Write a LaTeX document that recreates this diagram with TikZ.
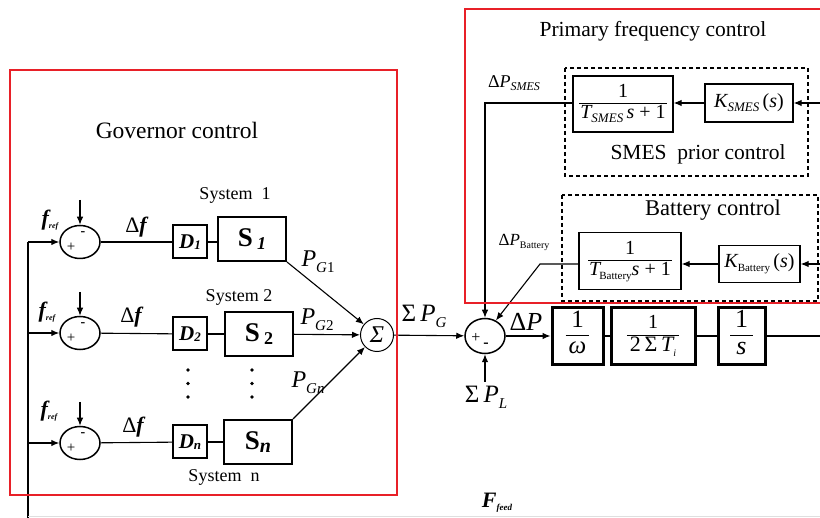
\documentclass[tikz,border=0pt]{standalone}
\usepackage{fontspec}
\setmainfont{Liberation Serif}
\usetikzlibrary{arrows.meta,shapes.geometric}
\newcommand{\fs}[1]{\fontsize{#1pt}{#1pt}\selectfont}
\newcommand{\dn}[3]{\raisebox{#1}{\fs{#2}#3}}
\newcommand{\frc}[3]{\begin{tabular}{@{\hspace{#1}}c@{\hspace{#1}}}#2\\\hline#3\end{tabular}}
\setlength{\arrayrulewidth}{1pt}
\definecolor{rd}{RGB}{232,32,40}
\newcommand{\fref}{{\bfseries\itshape f}\dn{-3pt}{8}{\bfseries\itshape ref}}
\begin{document}
\begin{tikzpicture}[x=1pt,y=-1pt,line width=1.1pt,
  arr/.style={-{Latex[length=8pt,width=6.5pt]}},
  rc/.style={ellipse,draw,line width=1.5pt,minimum width=40pt,minimum height=33pt,inner sep=0pt},
  ms/.style={ellipse,draw,line width=1.5pt,minimum width=40pt,minimum height=35pt,inner sep=0pt},
  sc/.style={circle,draw,line width=1pt,minimum size=33pt,inner sep=0pt,font=\fs{24}\itshape},
  db/.style={draw,line width=2pt,minimum width=34pt,minimum height=33pt,inner sep=0pt,font=\fs{21}\bfseries\itshape},
  sbx/.style={draw,line width=2pt,minimum width=68pt,minimum height=44pt,inner sep=0pt,font=\fs{27}},
  fwd/.style={draw,line width=3pt,minimum height=57pt,inner sep=0pt},
  tfb/.style={draw,line width=1.3pt,inner sep=0pt,font=\fs{20}},
  dbox/.style={draw,dash pattern=on 4pt off 3pt,line width=1.2pt},
  redbox/.style={draw=rd,line width=2pt},
  sgn/.style={inner sep=0pt,font=\fs{15}},
  lbl/.style={inner sep=0pt}]
\useasboundingbox (0,0) rectangle (820,518);
\fill[white] (0,0) rectangle (820,518);

% ---------- governor rows ----------
\node[lbl,font=\fs{23.5}] (gov) at (177,130) {Governor control};

\node[rc] (c1) at (80,242) {};
\node[rc] (c2) at (80,333) {};
\node[rc] (c3) at (80,443) {};
\foreach \i in {1,2,3}{
  \node[sgn] (p\i) at ([shift={(-9,5)}]c\i.center) {+};
  \node[sgn,font=\fs{14}\bfseries] (m\i) at ([shift={(3,-8)}]c\i.center) {-};
}
\coordinate (l1) at (28,242);
\coordinate (l2) at (28,333);
\coordinate (l3) at (28,443);
\coordinate (lb) at (28,518);
\draw (l1) -- (lb);
\draw[arr] (l1) -- (c1);
\draw[arr] (l2) -- (c2);
\draw[arr] (l3) -- (c3);
\coordinate (t1) at (80,200);
\coordinate (t2) at (80,292);
\coordinate (t3) at (80,402);
\draw[arr] (t1) -- (c1);
\draw[arr] (t2) -- (c2);
\draw[arr] (t3) -- (c3);
\node[lbl,font=\fs{22}] (fr1) at (50,220) {\fref};
\node[lbl,font=\fs{22}] (fr2) at (47,312) {\fref};
\node[lbl,font=\fs{22}] (fr3) at (49,411) {\fref};
\node[lbl,font=\fs{22}] (df1) at (136,227) {Δ{\bfseries\itshape f}};
\node[lbl,font=\fs{22}] (df2) at (131,317) {Δ{\bfseries\itshape f}};
\node[lbl,font=\fs{22}] (df3) at (133,427) {Δ{\bfseries\itshape f}};

\node[db] (d1) at (190,242) {D\dn{-1pt}{13}{1}};
\node[db] (d2) at (190,334) {D\dn{-1pt}{13}{2}};
\node[db] (d3) at (190,442) {D\dn{-1pt}{13}{n}};
\node[sbx] (s1) at (252,239) {{\bfseries S}\hspace{4pt}\dn{-3pt}{18}{\bfseries\itshape 1}};
\node[sbx] (s2) at (259,334) {{\bfseries S}\hspace{4pt}\dn{-3pt}{18}{\bfseries 2}};
\node[sbx] (s3) at (258,442) {{\bfseries S}\dn{-3pt}{20}{\bfseries\itshape n}};
\draw (c1) -- (d1);
\draw (c2) -- (d2);
\draw (c3) -- (d3);
\draw (d1.east) -- (d1.east -| s1.west);
\draw (d2.east) -- (d2.east -| s2.west);
\draw (d3.east) -- (d3.east -| s3.west);
\node[lbl,font=\fs{18}] (sy1) at (235,195) {System\hspace{0.5em}1};
\node[lbl,font=\fs{18}] (sy2) at (239,297) {System 2};
\node[lbl,font=\fs{18}] (sy3) at (224,477) {System\hspace{0.5em}n};
\foreach \yy in {370,383.5,397}{
  \fill (188,\yy) circle[radius=1.8pt];
  \fill (252,\yy) circle[radius=1.8pt];
}

\node[sc] (sig) at (377,335) {Σ};
\draw[arr] (s1.south east) -- (sig);
\draw[arr] (s2) -- (sig);
\draw[arr] (s3.north east) -- (sig);
\node[lbl,font=\fs{24},anchor=west] (pg1) at (301,262) {{\itshape P}\dn{-6pt}{15}{{\itshape G}1}};
\node[lbl,font=\fs{24},anchor=west] (pg2) at (300,320) {{\itshape P}\dn{-6pt}{15}{{\itshape G}2}};
\node[lbl,font=\fs{24},anchor=west] (pg3) at (291,383) {{\itshape P}\dn{-6pt}{15}{\itshape Gn}};

% ---------- central sum ----------
\node[ms] (sum) at (485,336) {};
\node[sgn,font=\fs{16}] (sp) at ([shift={(-9,2)}]sum.center) {+};
\node[sgn,font=\fs{16}\bfseries] (sm) at ([shift={(1,9)}]sum.center) {-};
\draw[arr] (sig) -- (sum);
\node[lbl,font=\fs{25}] (spg) at (424,316) {Σ\,{\itshape P}\dn{-6pt}{15}{\itshape G}};
\coordinate (pl) at (485,382);
\draw[arr] (pl) -- (sum);
\node[lbl,font=\fs{25}] (spl) at (486,397) {Σ\,{\itshape P}\dn{-6pt}{15}{\itshape L}};
\node[lbl,font=\fs{22}] (ff) at (497,503) {{\bfseries\itshape F}\dn{-3pt}{9}{\bfseries\itshape feed}};

% ---------- forward path ----------
\node[fwd,minimum width=51pt,font=\fs{25}] (wb) at (577.5,336) {\frc{3pt}{1}{\itshape ω}};
\node[fwd,minimum width=84pt,font=\fs{22}] (tb) at (653,336) {\frc{3pt}{\fs{20}1}{2\,Σ\,{\itshape T}\dn{-5pt}{10}{\itshape i}}};
\node[fwd,minimum width=47pt,font=\fs{26}] (ib) at (741.5,336) {\frc{5pt}{1}{\itshape s}};
\draw[arr] (sum) -- (wb);
\node[lbl,font=\fs{26}] (dp) at (526,322) {Δ{\itshape P}};
\draw (wb) -- (tb);
\draw (tb) -- (ib);
\coordinate (out) at (821,336);
\draw (ib) -- (out);

% ---------- SMES ----------
\draw[dbox] (565,68) rectangle (808,176);
\node[tfb,minimum width=100pt,minimum height=56pt] (stf) at (623,104) {\frc{1pt}{1}{{\itshape T}\dn{-4pt}{13}{\itshape SMES}\,{\itshape s} + 1}};
\node[tfb,minimum width=88pt,minimum height=38pt] (ks) at (749,103) {{\itshape K}\dn{-4pt}{13}{\itshape SMES}\,({\itshape s})};
\coordinate (is) at (821,103);
\draw[arr] (is) -- (ks.east);
\draw[arr] (ks.west) -- (ks.west -| stf.east);
\coordinate (cs) at (485,103);
\draw[arr] (stf.west |- cs) -- (cs) -- (sum.north);
\node[lbl,font=\fs{18}] (dps) at (514,83) {Δ{\itshape P}\dn{-3pt}{12}{\itshape SMES}};
\node[lbl,font=\fs{21.5}] (spc) at (698,154) {SMES\hspace{0.5em}prior control};

% ---------- Battery ----------
\draw[dbox] (562,195) rectangle (818,301);
\node[lbl,font=\fs{22.5}] (bc) at (713,210) {Battery control};
\node[tfb,minimum width=102pt,minimum height=57pt] (btf) at (630,261) {\frc{1pt}{1}{{\itshape T}\kern-1pt\dn{-4pt}{11}{Battery}{\itshape s} + 1}};
\node[tfb,minimum width=81pt,minimum height=37pt] (kb) at (759.5,264) {{\itshape K}\dn{-4pt}{11}{Battery}\,({\itshape s})};
\coordinate (ibt) at (821,264);
\draw[arr] (ibt) -- (kb.east);
\draw[arr] (kb.west) -- (kb.west -| btf.east);
\coordinate (cb) at (540,264);
\draw[arr] (btf.west |- cb) -- (cb) -- (sum.55);
\node[lbl,font=\fs{17}] (dpb) at (524,242) {Δ{\itshape P}\dn{-3pt}{10}{Battery}};

% ---------- frames ----------
\node[lbl,font=\fs{21.5}] (pfc) at (653,31) {Primary frequency control};
\draw[redbox] (10,70) rectangle (397,495);
\draw[redbox] (822,9) -- (465,9) -- (465,303) -- (822,303);
\coordinate (fb1) at (28,516.5);
\coordinate (fb2) at (821,516.5);
\draw[gray!25,line width=0.8pt] (fb1) -- (fb2);
\end{tikzpicture}
\end{document}
